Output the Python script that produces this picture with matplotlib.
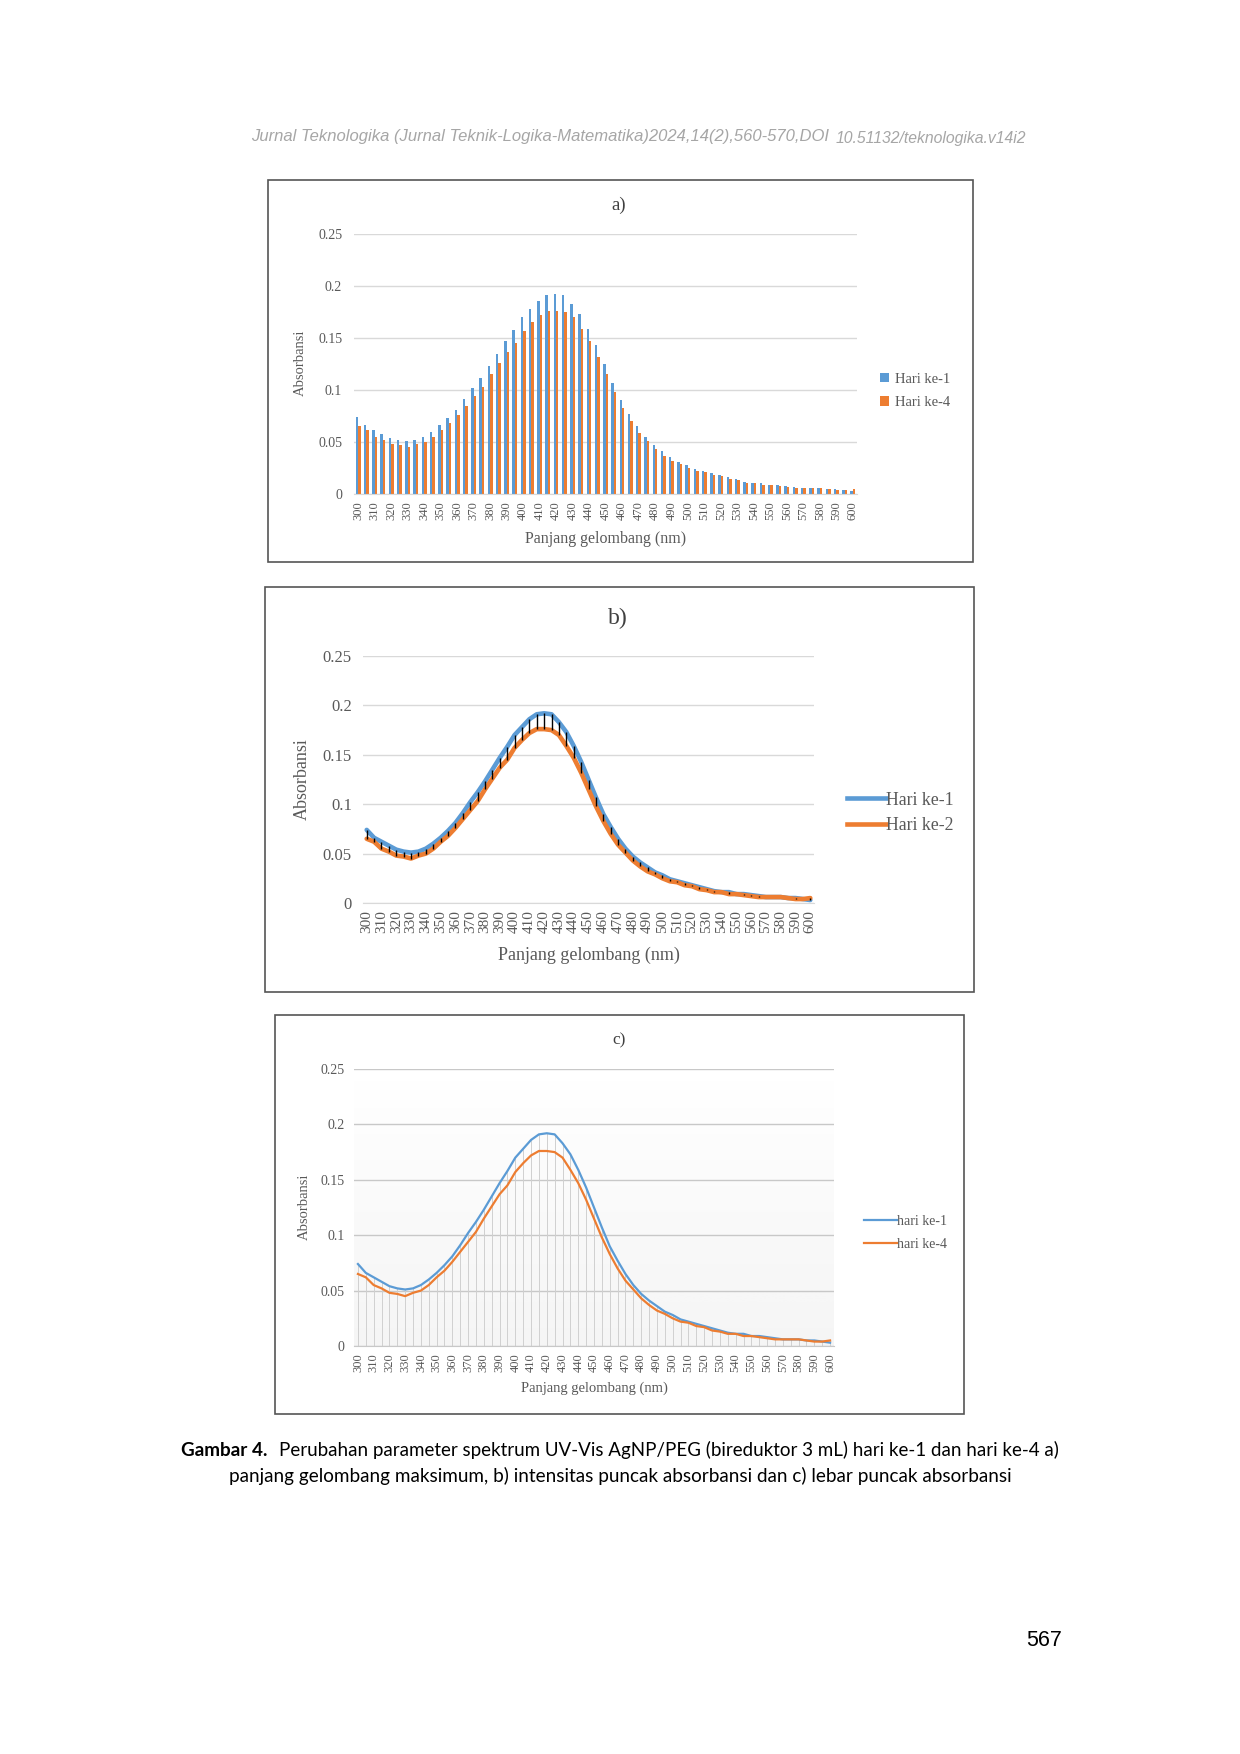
import numpy as np
import matplotlib.pyplot as plt
from matplotlib.lines import Line2D
from matplotlib.patches import Rectangle

# Data (absorbance, 300-600 nm every 5 nm)
wavelength = np.arange(300, 605, 5)
hari1 = [0.074, 0.066, 0.062, 0.058, 0.054, 0.052, 0.051, 0.052, 0.055, 0.060,
         0.066, 0.073, 0.081, 0.091, 0.102, 0.112, 0.123, 0.135, 0.147, 0.158,
         0.170, 0.178, 0.186, 0.191, 0.192, 0.191, 0.183, 0.173, 0.159, 0.143,
         0.125, 0.107, 0.090, 0.077, 0.065, 0.055, 0.047, 0.041, 0.036, 0.031,
         0.028, 0.024, 0.022, 0.020, 0.018, 0.016, 0.014, 0.012, 0.011, 0.011,
         0.009, 0.009, 0.008, 0.007, 0.006, 0.006, 0.006, 0.005, 0.005, 0.004,
         0.003]
hari4 = [0.065, 0.062, 0.055, 0.052, 0.048, 0.047, 0.045, 0.048, 0.050, 0.055,
         0.062, 0.068, 0.076, 0.085, 0.094, 0.103, 0.115, 0.126, 0.137, 0.145,
         0.157, 0.165, 0.172, 0.176, 0.176, 0.175, 0.170, 0.159, 0.147, 0.132,
         0.115, 0.098, 0.083, 0.070, 0.059, 0.051, 0.043, 0.037, 0.032, 0.029,
         0.025, 0.022, 0.021, 0.018, 0.017, 0.014, 0.013, 0.011, 0.011, 0.009,
         0.009, 0.008, 0.007, 0.006, 0.006, 0.006, 0.006, 0.005, 0.004, 0.004,
         0.005]
yticks = [0, 0.05, 0.1, 0.15, 0.2, 0.25]
ytick_labels = ["0", "0.05", "0.1", "0.15", "0.2", "0.25"]

BLUE = "#5B9BD5"
ORANGE = "#ED7D31"
GRAY = "#595959"
SERIF = "Liberation Serif"

W, H = 1240, 1754
fig = plt.figure(figsize=(W / 100, H / 100), dpi=100)


def box(l, t, r, b):
    return [l / W, 1 - b / H, (r - l) / W, (b - t) / H]


def frame(l, t, r, b):
    fig.patches.append(Rectangle((l / W, 1 - b / H), (r - l) / W, (b - t) / H,
                                 transform=fig.transFigure, fill=False,
                                 edgecolor="#555555", lw=1.2))


def style(ax, tick_fs, xtick_fs, pad, grid_color="#d9d9d9"):
    x = np.arange(len(wavelength))
    ax.set_xlim(-0.5, len(wavelength) - 0.5)
    ax.set_ylim(0, 0.25)
    ax.set_yticks(yticks)
    ax.set_yticklabels(ytick_labels, fontsize=tick_fs, color=GRAY, family=SERIF)
    ax.set_xticks(x[::2])
    ax.set_xticklabels([str(w) for w in wavelength[::2]], rotation=90,
                       fontsize=xtick_fs, color=GRAY, family=SERIF)
    ax.tick_params(axis="y", length=0, pad=pad)
    ax.tick_params(axis="x", length=0, pad=5)
    for s in ["top", "right", "left"]:
        ax.spines[s].set_visible(False)
    ax.spines["bottom"].set_color(grid_color)
    ax.yaxis.grid(True, color=grid_color, lw=1)
    ax.set_axisbelow(True)
    ax.set_facecolor("none")
    return x


# Header
fig.text(251 / W, 1 - 137 / H,
         "Jurnal Teknologika (Jurnal Teknik-Logika-Matematika)2024,14(2),560-570,DOI",
         fontsize=12, style="italic", color="#a6a6a6", family="Liberation Sans",
         va="center", ha="left")
fig.text(836 / W, 1 - 138 / H, "10.51132/teknologika.v14i2",
         fontsize=11.3, style="italic", color="#a6a6a6", family="Liberation Sans",
         va="center", ha="left")

# ---- a) bar chart ----
frame(268, 180, 973, 562)
ax = fig.add_axes(box(354, 234, 857, 494))
x = style(ax, 10, 9, pad=8.5)
bw = 0.3
ax.bar(x - bw / 2, hari1, width=bw, color=BLUE, label="Hari ke-1")
ax.bar(x + bw / 2, hari4, width=bw, color=ORANGE, label="Hari ke-4")
fig.text(619 / W, 1 - 205 / H, "a)", fontsize=13.5, color="#404040", family=SERIF,
         ha="center", va="center")
ax.set_xlabel("Panjang gelombang (nm)", fontsize=11.5, color=GRAY, family=SERIF,
              labelpad=8)
fig.text(300 / W, 1 - 363 / H, "Absorbansi", fontsize=10.5, color=GRAY,
         family=SERIF, rotation=90, ha="center", va="center")
ax.legend(loc="center left", bbox_to_anchor=(867 / W, 1 - 391 / H),
          bbox_transform=fig.transFigure, frameon=False,
          prop={"family": SERIF, "size": 10.5}, labelcolor=GRAY,
          handlelength=0.6, handleheight=0.6, handletextpad=0.4, labelspacing=0.7)

# ---- b) line chart with high-low lines ----
frame(265, 587, 974, 992)
ax = fig.add_axes(box(363, 656, 814, 903))
x = style(ax, 12, 11, pad=8)
ax.vlines(x, hari4, hari1, color="black", lw=1, zorder=3)
ax.plot(x, hari1, color=BLUE, lw=3.3, solid_capstyle="round", zorder=2)
ax.plot(x, hari4, color=ORANGE, lw=3.3, solid_capstyle="round", zorder=2)
fig.text(618 / W, 1 - 618 / H, "b)", fontsize=17, color="#404040", family=SERIF,
         ha="center", va="center")
ax.set_xlabel("Panjang gelombang (nm)", fontsize=13, color=GRAY, family=SERIF,
              labelpad=10)
fig.text(302 / W, 1 - 779 / H, "Absorbansi", fontsize=13, color=GRAY,
         family=SERIF, rotation=90, ha="center", va="center")
handles = [Line2D([], [], color=BLUE, lw=3.3), Line2D([], [], color=ORANGE, lw=3.3)]
ax.legend(handles, ["Hari ke-1", "Hari ke-2"], loc="center left",
          bbox_to_anchor=(831 / W, 1 - 813 / H), bbox_transform=fig.transFigure,
          frameon=False, prop={"family": SERIF, "size": 12.8}, labelcolor=GRAY,
          handlelength=2.2, handletextpad=0.0, labelspacing=0.5)

# ---- c) line chart with drop lines and shaded plot area ----
frame(275, 1015, 964, 1414)
ax = fig.add_axes(box(354, 1069, 834, 1346))
x = style(ax, 10, 9, pad=7, grid_color="#c8c8c8")
grad = np.linspace(0, 1, 256).reshape(-1, 1)
ax.imshow(1 - grad, extent=(-0.5, len(x) - 0.5, 0, 0.25), origin="lower",
          aspect="auto", cmap="Greys", vmin=0, vmax=12, zorder=0)
ax.vlines(x, 0, np.maximum(hari1, hari4), color="#d0d0d0", lw=0.7, zorder=1)
ax.plot(x, hari1, color=BLUE, lw=1.6, zorder=3)
ax.plot(x, hari4, color=ORANGE, lw=1.6, zorder=3)
fig.text(619 / W, 1 - 1040 / H, "c)", fontsize=12.5, color="#404040", family=SERIF,
         ha="center", va="center")
ax.set_xlabel("Panjang gelombang (nm)", fontsize=10.5, color=GRAY, family=SERIF,
              labelpad=7)
fig.text(304 / W, 1 - 1207 / H, "Absorbansi", fontsize=10.5, color=GRAY,
         family=SERIF, rotation=90, ha="center", va="center")
handles = [Line2D([], [], color=BLUE, lw=1.6), Line2D([], [], color=ORANGE, lw=1.6)]
ax.legend(handles, ["hari ke-1", "hari ke-4"], loc="center left",
          bbox_to_anchor=(851 / W, 1 - 1233 / H), bbox_transform=fig.transFigure,
          frameon=False, prop={"family": SERIF, "size": 10}, labelcolor=GRAY,
          handlelength=2.4, handletextpad=0.0, labelspacing=0.7)

# Caption
fig.text(181 / W, 1 - 1450 / H, "Gambar 4.", fontsize=13.6, weight="bold",
         family="Lato", ha="left", va="center")
fig.text(279 / W, 1 - 1450 / H,
         "Perubahan parameter spektrum UV-Vis AgNP/PEG (bireduktor 3 mL) hari ke-1 dan hari ke-4 a)",
         fontsize=13.5, family="Lato", ha="left", va="center")
fig.text(620 / W, 1 - 1476 / H,
         "panjang gelombang maksimum, b) intensitas puncak absorbansi dan c) lebar puncak absorbansi",
         fontsize=13.6, family="Lato", ha="center", va="center")

# Page number
fig.text(1044 / W, 1 - 1641 / H, "567", fontsize=15.5, family="Liberation Sans",
         ha="center", va="center")

fig.savefig("out.png", dpi=100)
